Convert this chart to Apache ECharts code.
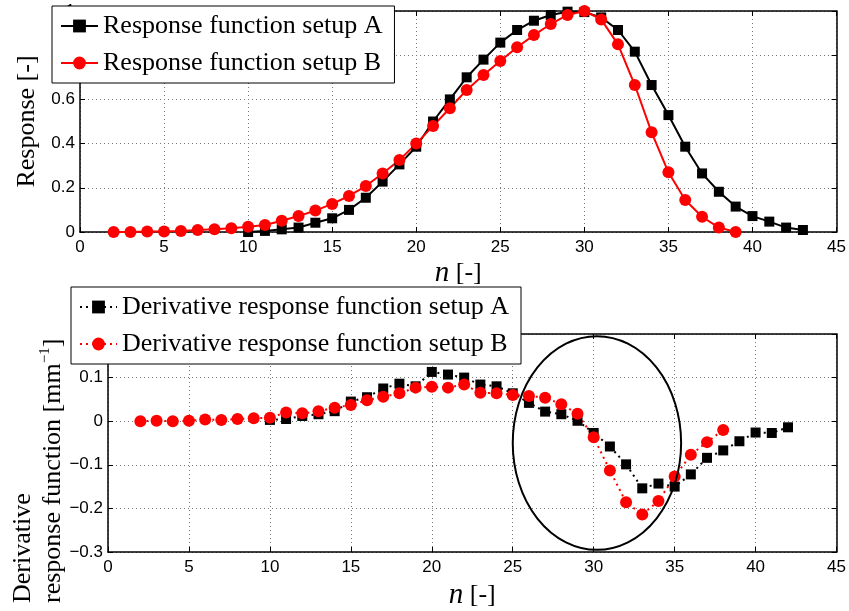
<!DOCTYPE html>
<html>
<head>
<meta charset="utf-8">
<script src="https://cdn.jsdelivr.net/npm/echarts@6/dist/echarts.min.js"></script>
<style>
  html, body { margin: 0; padding: 0; background: #fff; }
  #chart { width: 849px; height: 611px; }
</style>
</head>
<body>
<div id="chart"></div>
<script>
// response function, top panel
const nRespA = [10, 11, 12, 13, 14, 15, 16, 17, 18, 19, 20, 21, 22, 23, 24, 25, 26, 27, 28, 29, 30, 31, 32, 33, 34, 35, 36, 37, 38, 39, 40, 41, 42, 43];
const respA = [0, 0.005, 0.012, 0.02, 0.042, 0.062, 0.10, 0.155, 0.228, 0.306, 0.386, 0.50, 0.60, 0.70, 0.78, 0.857, 0.914, 0.956, 0.982, 0.997, 0.995, 0.971, 0.914, 0.816, 0.665, 0.529, 0.386, 0.265, 0.182, 0.115, 0.072, 0.047, 0.02, 0.009];
const nRespB = [2, 3, 4, 5, 6, 7, 8, 9, 10, 11, 12, 13, 14, 15, 16, 17, 18, 19, 20, 21, 22, 23, 24, 25, 26, 27, 28, 29, 30, 31, 32, 33, 34, 35, 36, 37, 38, 39];
const respB = [0, 0, 0.002, 0.002, 0.005, 0.009, 0.012, 0.017, 0.024, 0.032, 0.051, 0.072, 0.097, 0.127, 0.163, 0.208, 0.265, 0.326, 0.40, 0.48, 0.56, 0.643, 0.71, 0.774, 0.836, 0.891, 0.941, 0.982, 1.0, 0.962, 0.849, 0.665, 0.451, 0.27, 0.145, 0.069, 0.02, 0];

// derivative, bottom panel
const nDerivA = [10, 11, 12, 13, 14, 15, 16, 17, 18, 19, 20, 21, 22, 23, 24, 25, 26, 27, 28, 29, 30, 31, 32, 33, 34, 35, 36, 37, 38, 39, 40, 41, 42];
const derivA = [0.003, 0.005, 0.012, 0.016, 0.023, 0.045, 0.055, 0.075, 0.086, 0.08, 0.113, 0.107, 0.10, 0.084, 0.08, 0.064, 0.042, 0.022, 0.016, 0.001, -0.027, -0.058, -0.099, -0.154, -0.143, -0.15, -0.122, -0.084, -0.067, -0.046, -0.026, -0.027, -0.014];
const nDerivB = [2, 3, 4, 5, 6, 7, 8, 9, 10, 11, 12, 13, 14, 15, 16, 17, 18, 19, 20, 21, 22, 23, 24, 25, 26, 27, 28, 29, 30, 31, 32, 33, 34, 35, 36, 37, 38];
const derivB = [0, 0.001, 0, 0.001, 0.004, 0.003, 0.005, 0.007, 0.008, 0.02, 0.018, 0.023, 0.031, 0.037, 0.048, 0.056, 0.064, 0.077, 0.079, 0.077, 0.084, 0.065, 0.064, 0.06, 0.058, 0.054, 0.039, 0.017, -0.037, -0.113, -0.186, -0.214, -0.183, -0.127, -0.077, -0.048, -0.02];

// highlight ellipse: centre (n, value) and radii
const ellipseMark = [[30.2, -0.05, 5.2, 0.245]];

const namesTop = ["Response function setup A", "Response function setup B"];
const namesBottom = ["Derivative response function setup A", "Derivative response function setup B"];

const serif = '"Liberation Serif", "Times New Roman", serif';
const sans = '"Liberation Sans", Arial, sans-serif';

const zip = (xs, ys) => xs.map((x, i) => [x, ys[i]]);

function xAxisOf(gridIndex, position, nameGap) {
  const main = position === "bottom";
  return {
    type: "value",
    gridIndex: gridIndex,
    position: position,
    min: 0, max: 45, interval: 5,
    axisLine: { show: true, onZero: false, lineStyle: { color: "#000", width: 1.5 } },
    axisTick: { show: true, inside: true, length: 5, lineStyle: { color: "#000" } },
    axisLabel: { show: main, color: "#000", fontFamily: sans, fontSize: 17, margin: 7 },
    splitLine: { show: main, lineStyle: { color: "#777", type: [1, 3], width: 1 } },
    name: main ? "{i|n} [-]" : "",
    nameLocation: "middle",
    nameGap: nameGap,
    nameTextStyle: {
      fontFamily: serif, fontSize: 26, color: "#000",
      rich: { i: { fontFamily: serif, fontStyle: "italic", fontSize: 29, color: "#000" } },
    },
  };
}

function yAxisOf(gridIndex, position, min, max, interval) {
  const main = position === "left";
  return {
    type: "value",
    gridIndex: gridIndex,
    position: position,
    min: min, max: max, interval: interval,
    axisLine: { show: true, onZero: false, lineStyle: { color: "#000", width: 1.5 } },
    axisTick: { show: true, inside: true, length: 5, lineStyle: { color: "#000" } },
    axisLabel: {
      show: main, color: "#000", fontFamily: sans, fontSize: 17, margin: 5,
      formatter: (v) => String(Math.round(v * 10) / 10).replace("-", "\u2212"),
    },
    splitLine: { show: main, lineStyle: { color: "#777", type: [1, 3], width: 1 } },
  };
}

function legendOf(names, left, top) {
  return {
    data: names,
    orient: "vertical",
    left: left, top: top,
    padding: [7, 12, 7, 8],
    itemWidth: 37, itemHeight: 16, itemGap: 11,
    backgroundColor: "#fff",
    borderColor: "#000", borderWidth: 1, borderRadius: 0,
    textStyle: { fontFamily: serif, fontSize: 26, color: "#000" },
  };
}

function lineSeries(name, xi, yi, data, black, dotted) {
  return {
    name: name,
    type: "line",
    xAxisIndex: xi, yAxisIndex: yi,
    data: data,
    symbol: black ? "rect" : "circle",
    symbolSize: black ? 10 : 12,
    itemStyle: { color: black ? "#000" : "#ff0000" },
    lineStyle: { color: black ? "#000" : "#ff0000", width: 2, type: dotted ? [2, 4] : "solid" },
  };
}

const chart = echarts.init(document.getElementById("chart"));

chart.setOption({
  animation: false,
  backgroundColor: "#fff",
  grid: [
    { left: 80, right: 12, top: 11, height: 221 },
    { left: 108, right: 12, top: 334, height: 221 },
  ],
  xAxis: [
    xAxisOf(0, "bottom", 27),
    xAxisOf(0, "top", 0),
    xAxisOf(1, "bottom", 29),
    xAxisOf(1, "top", 0),
  ],
  yAxis: [
    Object.assign(yAxisOf(0, "left", 0, 1, 0.2), {
      name: "Response [-]", nameLocation: "middle", nameGap: 32,
      nameTextStyle: { fontFamily: serif, fontSize: 26, color: "#000" },
    }),
    yAxisOf(0, "right", 0, 1, 0.2),
    yAxisOf(1, "left", -0.3, 0.2, 0.1),
    yAxisOf(1, "right", -0.3, 0.2, 0.1),
  ],
  legend: [
    legendOf(namesTop, 52, 6),
    legendOf(namesBottom, 71, 287),
  ],
  graphic: [{
    type: "text",
    x: 8, y: 603,
    rotation: Math.PI / 2,
    style: {
      text: "Derivative\nresponse function [mm{sup|\u22121}]",
      fontFamily: serif, fontSize: 26, lineHeight: 30,
      fill: "#000", align: "left", verticalAlign: "top",
      rich: { sup: { fontFamily: serif, fontSize: 15, lineHeight: 30, verticalAlign: "top", fill: "#000" } },
    },
  }],
  series: [
    lineSeries(namesTop[0], 0, 0, zip(nRespA, respA), true, false),
    lineSeries(namesTop[1], 0, 0, zip(nRespB, respB), false, false),
    lineSeries(namesBottom[0], 2, 2, zip(nDerivA, derivA), true, true),
    lineSeries(namesBottom[1], 2, 2, zip(nDerivB, derivB), false, true),
    {
      type: "custom",
      xAxisIndex: 2, yAxisIndex: 2,
      silent: true, clip: false, z: 10,
      data: ellipseMark,
      renderItem: (params, api) => {
        const c = api.coord([api.value(0), api.value(1)]);
        const s = api.size([api.value(2), api.value(3)]);
        const rx = Math.abs(s[0]), ry = Math.abs(s[1]);
        return {
          type: "path",
          shape: {
            pathData: "M0 1 A1 1 0 1 0 2 1 A1 1 0 1 0 0 1 Z",
            x: c[0] - rx, y: c[1] - ry, width: 2 * rx, height: 2 * ry,
            layout: "cover",
          },
          style: { fill: "none", stroke: "#000", lineWidth: 2 },
        };
      },
    },
  ],
});
</script>
</body>
</html>
